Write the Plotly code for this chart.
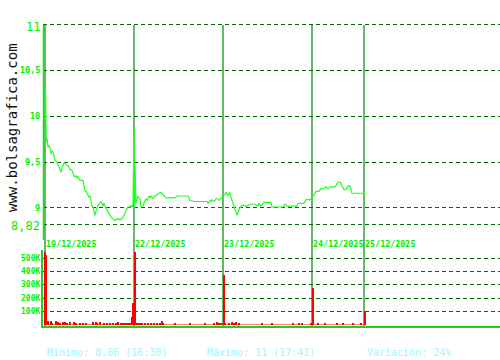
import plotly.graph_objects as go

# ---------------- data ----------------
# time index: intervals since the first session open (one full session = 89 intervals)
day_labels = ["19/12/2025", "22/12/2025", "23/12/2025", "24/12/2025", "25/12/2025"]
day_start_t = [0, 89, 178, 267, 319]

price_t = [0, 0.5, 1.2, 2, 3, 4, 5, 6, 7, 8, 10, 11, 12, 13, 14, 15, 16, 17, 18, 19, 20, 21, 23, 24, 25,
           27, 28, 29, 30, 31, 32, 33, 35, 38, 39, 40, 41, 42, 43, 44, 45, 46, 47, 48, 49, 50, 51, 52,
           53, 54, 55, 56, 57, 58, 59, 60, 61, 62, 63, 64, 65, 66, 67, 68, 69, 70, 72, 73, 74, 75, 76,
           77, 78, 79, 80, 81, 82, 83, 84, 85, 86, 87, 88, 89, 89.3, 89.6, 90, 91, 92, 93, 94, 95, 96,
           97, 98, 99, 100, 101, 102, 104, 105, 106, 107, 108, 109, 110, 112, 114, 116, 117, 118, 119,
           121, 130, 131, 132, 134, 143, 144, 145, 150, 162, 163, 164, 165, 166, 167, 168, 169, 170,
           171, 173, 174, 175, 176, 177, 178, 179, 180, 181, 182, 183, 184, 185, 186, 187, 188, 189,
           190, 191, 192, 193, 194, 195, 196, 197, 198, 200, 202, 203, 205, 210, 212, 213, 214, 215,
           216, 217, 219, 226, 227, 238, 239, 240, 241, 242, 252, 253, 259, 260, 261, 265, 266, 267,
           268, 269, 270, 271, 274, 275, 276, 279, 280, 281, 283, 284, 285, 290, 291, 292, 293, 295,
           296, 297, 298, 299, 301, 302, 303, 305, 306, 307, 318, 319, 319.5]
price_v = [9.95, 10.35, 9.72, 9.76, 9.66, 9.68, 9.66, 9.59, 9.62, 9.61, 9.52, 9.51, 9.50, 9.47, 9.46,
           9.42, 9.39, 9.44, 9.48, 9.49, 9.49, 9.47, 9.46, 9.43, 9.42, 9.41, 9.37, 9.35, 9.34, 9.35,
           9.33, 9.34, 9.30, 9.30, 9.24, 9.18, 9.18, 9.16, 9.15, 9.12, 9.13, 9.06, 9.02, 9.01, 8.95,
           8.92, 8.96, 9.00, 9.03, 9.04, 9.05, 9.07, 9.05, 9.02, 9.05, 9.02, 9.01, 8.98, 8.96, 8.93,
           8.92, 8.90, 8.89, 8.88, 8.88, 8.86, 8.88, 8.88, 8.87, 8.88, 8.87, 8.88, 8.90, 8.92, 8.95,
           8.97, 8.99, 9.01, 9.01, 9.01, 9.03, 9.01, 9.04, 9.88, 9.45, 9.00, 9.46, 9.05, 9.08, 9.13,
           9.11, 9.10, 9.01, 9.01, 9.02, 9.06, 9.08, 9.10, 9.08, 9.13, 9.11, 9.13, 9.12, 9.10, 9.12,
           9.13, 9.15, 9.16, 9.17, 9.16, 9.15, 9.13, 9.11, 9.11, 9.12, 9.13, 9.13, 9.13, 9.11, 9.08,
           9.07, 9.07, 9.05, 9.07, 9.08, 9.07, 9.09, 9.08, 9.07, 9.08, 9.10, 9.10, 9.08, 9.09, 9.10,
           9.11, 9.12, 9.13, 9.15, 9.17, 9.15, 9.13, 9.15, 9.17, 9.12, 9.08, 9.04, 9.01, 8.98, 8.96,
           8.92, 8.95, 8.99, 9.00, 9.01, 9.03, 9.03, 9.02, 9.02, 9.03, 9.04, 9.04, 9.03, 9.02, 9.05,
           9.03, 9.02, 9.03, 9.06, 9.06, 9.01, 9.01, 9.03, 9.04, 9.03, 9.02, 9.02, 9.05, 9.05, 9.08,
           9.09, 9.09, 9.10, 9.12, 9.12, 9.14, 9.16, 9.18, 9.18, 9.19, 9.21, 9.21, 9.22, 9.23, 9.21,
           9.22, 9.23, 9.23, 9.25, 9.27, 9.28, 9.28, 9.27, 9.24, 9.21, 9.20, 9.20, 9.22, 9.24, 9.24,
           9.21, 9.16, 9.16, 9.13, 9.18]

vol_t = [0.5, 1.5, 3, 6, 7, 11, 13, 15, 18, 20, 22, 25, 29, 31, 35, 38, 41, 48, 51, 52, 55, 59, 62, 65, 68,
         71, 73, 76, 78, 80, 82, 84, 86, 87, 88.5, 90, 91, 93, 95, 97, 100, 103, 106, 109, 112, 115,
         117, 118, 130, 145, 160, 169, 172, 174, 176, 179, 180, 184, 187, 189, 191, 194, 217, 227,
         248, 254, 257, 266, 268, 273, 280, 292, 298, 308, 316, 320]
vol_v = [545000, 525000, 28000, 33000, 15000, 33000, 20000, 18000, 20000, 25000, 15000, 20000, 22000,
         15000, 18000, 15000, 14000, 22000, 25000, 15000, 20000, 15000, 15000, 12000, 12000, 15000,
         25000, 12000, 12000, 12000, 12000, 12000, 10000, 63000, 168000, 543000, 15000, 12000, 10000,
         12000, 10000, 12000, 10000, 12000, 15000, 10000, 33000, 12000, 8000, 8000, 8000, 15000, 20000,
         12000, 15000, 377000, 12000, 15000, 20000, 10000, 25000, 12000, 8000, 8000, 8000, 12000,
         10000, 15000, 280000, 15000, 8000, 8000, 8000, 8000, 8000, 103000]
base_vol_t = [0, 320]
base_vol_v = [3500, 3500]

price_ticks = [11, 10.5, 10, 9.5, 9, 8.82]
price_tick_text = ["11", "10,5", "10", "9,5", "9", "8,82"]
vol_ticks = [100000, 200000, 300000, 400000, 500000]
vol_tick_text = ["100K", "200K", "300K", "400K", "500K"]

footer = ["Mínimo: 8,86 (16:30)", "Máximo: 11 (17:41)", "Variación: 24%"]

# ---------------- figure ----------------
W, H = 500, 360
LIME = "#00ee00"
LINE = "#22ff22"
GRID = "#006600"
SEP = "#008800"
MONO = "DejaVu Sans Mono"

def py(p):  # pixel row -> paper y
    return (H - p) / H

def px(p):  # pixel column -> paper x
    return p / W

fig = go.Figure()

fig.add_trace(go.Scatter(x=price_t, y=price_v, mode="lines",
                         line=dict(color=LINE, width=1.2), xaxis="x", yaxis="y",
                         hoverinfo="skip", showlegend=False))
fig.add_trace(go.Scatter(x=base_vol_t, y=base_vol_v, mode="lines", fill="tozeroy",
                         fillcolor="#ff0000", line=dict(color="#ff0000", width=0),
                         xaxis="x2", yaxis="y2", hoverinfo="skip", showlegend=False))
fig.add_trace(go.Bar(x=vol_t, y=vol_v, width=1.3, marker=dict(color="#ff0000", line=dict(width=0)),
                     xaxis="x2", yaxis="y2", hoverinfo="skip", showlegend=False))

xr = [-2, 455]
y_dom = [py(240), py(20)]
v_dom = [py(326), py(250)]

fig.update_layout(
    width=W, height=H, margin=dict(l=0, r=0, t=0, b=0),
    paper_bgcolor="white", plot_bgcolor="white", bargap=0,
    xaxis=dict(domain=[px(43), 1], range=xr, showgrid=False, zeroline=False,
               showticklabels=False, ticks="", showline=False, anchor="y"),
    yaxis=dict(domain=y_dom, range=[8.65, 11.05], tickvals=price_ticks, showticklabels=False,
               showgrid=True, gridcolor=GRID, gridwidth=1, griddash="4px,3px", zeroline=False,
               showline=False, ticks="", anchor="x"),
    xaxis2=dict(domain=[px(43), 1], range=xr, showgrid=False, zeroline=False,
                showticklabels=False, ticks="", showline=True, linecolor="#22cc22",
                linewidth=2, anchor="y2"),
    yaxis2=dict(domain=v_dom, range=[-7500, 560000], tickvals=vol_ticks, showticklabels=False,
                showgrid=True, gridcolor=GRID, gridwidth=1, griddash="4px,3px", zeroline=False,
                showline=True, linecolor="#22cc22", linewidth=1.5, ticks="", anchor="x2"),
)

shapes = []
# left price axis line (from the 11 level down to the bottom of the price panel)
shapes.append(dict(type="line", xref="paper", yref="y", x0=px(43.5), x1=px(43.5),
                   y0=8.65, y1=11, line=dict(color=LIME, width=1.5), layer="above"))
for t in day_start_t:
    shapes.append(dict(type="line", xref="x", yref="paper", x0=t, x1=t,
                       y0=v_dom[0], y1=py(25), line=dict(color=SEP, width=1.2), layer="between"))
fig.update_layout(shapes=shapes)

ann = []
for i, (v, txt) in enumerate(zip(price_ticks, price_tick_text)):
    big = i == 0 or i == len(price_ticks) - 1
    ann.append(dict(x=px(41.5), xref="paper", y=v, yref="y", text=txt, showarrow=False,
                    xanchor="right", yanchor="middle", yshift=-2 if big else 0,
                    font=dict(family=MONO, size=12 if big else 8.5, color=LIME,
                              weight="normal" if big else "bold")))
for v, txt in zip(vol_ticks, vol_tick_text):
    ann.append(dict(x=px(42), xref="paper", y=v, yref="y2", text=txt, showarrow=False,
                    xanchor="right", yanchor="middle",
                    font=dict(family=MONO, size=8, color=LIME, weight="bold")))
for t, txt in zip(day_start_t, day_labels):
    ann.append(dict(x=t, xref="x", y=py(244), yref="paper", text=txt, showarrow=False,
                    xanchor="left", yanchor="middle", xshift=-1,
                    font=dict(family=MONO, size=8.4, color=LIME, weight="bold")))
for xpos, txt in zip([45, 205, 365], footer):
    ann.append(dict(x=px(xpos), xref="paper", y=py(352), yref="paper", text=txt, showarrow=False,
                    xanchor="left", yanchor="middle",
                    font=dict(family=MONO, size=10, color="#a0f4ff")))
ann.append(dict(x=px(12), xref="paper", y=py(128), yref="paper", text="www.bolsagrafica.com",
                showarrow=False, textangle=-90, xanchor="center", yanchor="middle",
                font=dict(family=MONO, size=14, color="#111111")))
fig.update_layout(annotations=ann)

fig.write_html("out.html")
